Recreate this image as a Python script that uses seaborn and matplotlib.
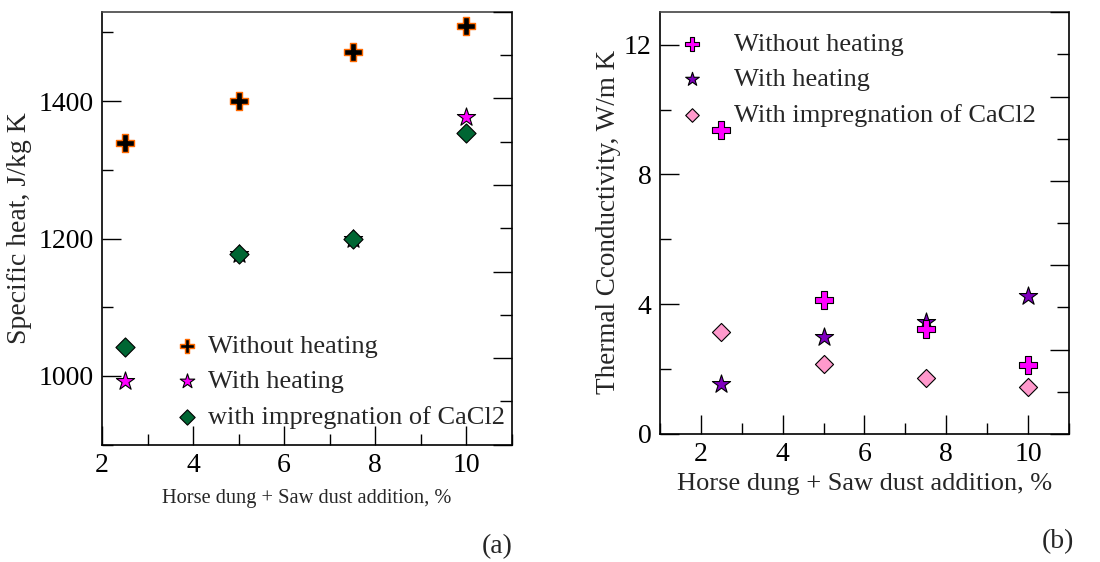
import matplotlib
matplotlib.use("Agg")
import matplotlib.pyplot as plt
from matplotlib.ticker import MultipleLocator, NullFormatter
import seaborn as sns
import pandas as pd

# Horse dung + saw dust addition (%)
addition = [2.5, 5.0, 7.5, 10.0]

# (a) specific heat, J/kg K
cp_without_heating = [1339, 1400, 1472, 1509]
cp_with_heating = [993, 1177, 1200, 1377]
cp_cacl2 = [1042, 1177, 1200, 1354]

# (b) thermal conductivity, W/m K
k_without_heating = [9.36, 4.14, 3.24, 2.14]
k_with_heating = [1.55, 3.00, 3.46, 4.26]
k_cacl2 = [3.14, 2.15, 1.72, 1.45]

labels_a = ["Without heating", "With heating", "with impregnation of CaCl2"]
labels_b = ["Without heating", "With heating", "With impregnation of CaCl2"]

sns.set_theme(style="ticks")
plt.rcParams["font.family"] = ["Liberation Serif", "DejaVu Serif"]
plt.rcParams["mathtext.fontset"] = "stix"

fig = plt.figure(figsize=(11.0, 5.62), dpi=100)
ax_a = fig.add_axes([0.0927, 0.2087, 0.3727, 0.7705])
ax_b = fig.add_axes([0.6, 0.2278, 0.3718, 0.7503])


def draw_series(ax, x, y, label, marker, face, edge, size, ew, z):
    df = pd.DataFrame({"x": x, "y": y})
    sns.scatterplot(data=df, x="x", y="y", ax=ax, marker=marker, s=size,
                    color=face, edgecolor=edge, linewidth=ew, label=label,
                    zorder=z, legend=False)


# panel (a)
draw_series(ax_a, addition, cp_without_heating, labels_a[0], "P", "black", "#ff6a00", 160, 1.0, 3)
draw_series(ax_a, addition, cp_with_heating, labels_a[1], "*", "#ff00ff", "black", 190, 0.8, 3)
draw_series(ax_a, addition, cp_cacl2, labels_a[2], "D", "#006633", "black", 95, 0.8, 4)

ax_a.set_xlim(2, 11)
ax_a.set_ylim(900, 1530)
ax_a.xaxis.set_major_locator(MultipleLocator(2))
ax_a.xaxis.set_minor_locator(MultipleLocator(1))
ax_a.yaxis.set_major_locator(MultipleLocator(200))
ax_a.yaxis.set_minor_locator(MultipleLocator(100))
ax_a.set_xlabel("Horse dung + Saw dust addition, %", fontsize=14.7, labelpad=8)
ax_a.set_ylabel("Specific heat, J/kg K", fontsize=20)
ax_a.yaxis.set_label_coords(-0.17, 0.5)

# panel (b)
draw_series(ax_b, addition, k_cacl2, labels_b[2], "D", "#ff99cc", "black", 85, 0.8, 2)
draw_series(ax_b, addition, k_with_heating, labels_b[1], "*", "#8000c0", "black", 190, 0.8, 3)
draw_series(ax_b, addition, k_without_heating, labels_b[0], "P", "#ff00ff", "black", 160, 0.8, 4)

ax_b.set_xlim(1, 11)
ax_b.set_ylim(0, 13)
ax_b.xaxis.set_major_locator(MultipleLocator(2))
ax_b.xaxis.set_minor_locator(MultipleLocator(1))
ax_b.yaxis.set_major_locator(MultipleLocator(4))
ax_b.yaxis.set_minor_locator(MultipleLocator(2))
ax_b.set_xlabel("Horse dung + Saw dust addition, %", fontsize=19, labelpad=4)
ax_b.set_ylabel("Thermal Cconductivity, W/m K", fontsize=19.5)
ax_b.yaxis.set_label_coords(-0.095, 0.503)

for ax in (ax_a, ax_b):
    ax.set_facecolor("white")
    for side in ("left", "bottom", "right", "top"):
        ax.spines[side].set_color("black")
        ax.spines[side].set_linewidth(1.2)
    ax.spines["top"].set_color("#444444")
    ax.tick_params(axis="both", which="major", direction="in", length=14,
                   width=1.0, colors="black", labelsize=20, pad=6,
                   top=False, right=False)
    ax.tick_params(axis="both", which="minor", direction="in", length=8,
                   width=1.0, colors="black", top=False, right=False)
    # mirrored right-hand scale, ticks only
    twin = ax.twinx()
    twin.set_ylim(0, 1)
    twin.yaxis.set_major_locator(MultipleLocator(0.2))
    twin.yaxis.set_minor_locator(MultipleLocator(0.1))
    twin.yaxis.set_major_formatter(NullFormatter())
    twin.tick_params(axis="y", which="major", direction="in", length=14, width=1.0, colors="black")
    twin.tick_params(axis="y", which="minor", direction="in", length=9, width=1.0, colors="black")
    twin.grid(False)
    for side in ("left", "bottom", "right", "top"):
        twin.spines[side].set_visible(False)

# legends
ax_a.legend(loc="lower left", bbox_to_anchor=(0.15, 0.013), frameon=False,
            fontsize=19, handletextpad=0.3, labelspacing=0.45,
            borderaxespad=0, handlelength=1.0, markerscale=0.8)
ax_b.legend(handles=ax_b.get_legend_handles_labels()[0][::-1],
            labels=labels_b, loc="upper left", bbox_to_anchor=(0.02, 0.977),
            frameon=False, fontsize=19, handletextpad=1.1, labelspacing=0.45,
            borderaxespad=0, handlelength=1.0, markerscale=0.75)

fig.text(0.452, 0.027, "(a)", fontsize=20, ha="center", va="center")
fig.text(0.962, 0.036, "(b)", fontsize=20, ha="center", va="center")

fig.savefig("out.png", dpi=100, facecolor="white")
